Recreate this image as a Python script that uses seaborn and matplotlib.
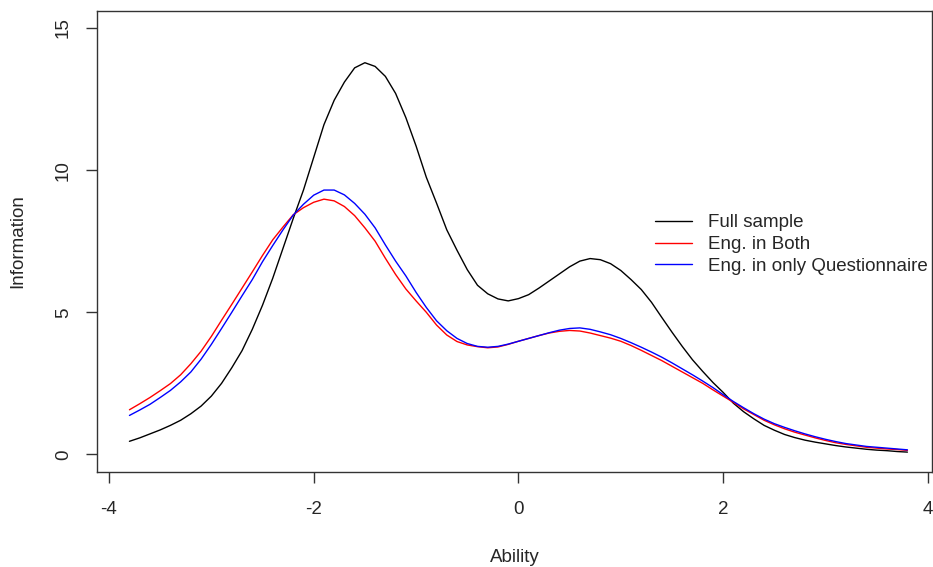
import pandas as pd
import matplotlib.pyplot as plt
import seaborn as sns
import numpy as np

# ability grid and information values
ability = [-3.8, -3.7, -3.6, -3.5, -3.4, -3.3, -3.2, -3.1, -3.0, -2.9,
           -2.8, -2.7, -2.6, -2.5, -2.4, -2.3, -2.2, -2.1, -2.0, -1.9,
           -1.8, -1.7, -1.6, -1.5, -1.4, -1.3, -1.2, -1.1, -1.0, -0.9,
           -0.8, -0.7, -0.6, -0.5, -0.4, -0.3, -0.2, -0.1, 0.0, 0.1,
           0.2, 0.3, 0.4, 0.5, 0.6, 0.7, 0.8, 0.9, 1.0, 1.1,
           1.2, 1.3, 1.4, 1.5, 1.6, 1.7, 1.8, 1.9, 2.0, 2.1,
           2.2, 2.3, 2.4, 2.5, 2.6, 2.7, 2.8, 2.9, 3.0, 3.1,
           3.2, 3.3, 3.4, 3.5, 3.6, 3.7, 3.8]

full_sample = [0.46, 0.58, 0.72, 0.86, 1.02, 1.2, 1.43, 1.7, 2.05, 2.5,
               3.05, 3.65, 4.4, 5.25, 6.2, 7.25, 8.3, 9.3, 10.45, 11.6,
               12.46, 13.1, 13.6, 13.78, 13.65, 13.3, 12.7, 11.85, 10.85, 9.75,
               8.84, 7.9, 7.18, 6.5, 5.95, 5.65, 5.47, 5.4, 5.48, 5.62,
               5.85, 6.1, 6.35, 6.6, 6.8, 6.89, 6.85, 6.71, 6.47, 6.15,
               5.8, 5.35, 4.82, 4.3, 3.8, 3.33, 2.92, 2.53, 2.18, 1.8,
               1.5, 1.25, 1.02, 0.85, 0.7, 0.59, 0.5, 0.43, 0.37, 0.31,
               0.26, 0.22, 0.18, 0.15, 0.13, 0.1, 0.08]

eng_both = [1.57, 1.78, 2.0, 2.24, 2.49, 2.8, 3.19, 3.63, 4.15, 4.72,
            5.28, 5.85, 6.42, 7.0, 7.55, 8.0, 8.43, 8.68, 8.87, 8.98,
            8.92, 8.72, 8.4, 7.97, 7.5, 6.9, 6.33, 5.82, 5.4, 5.0,
            4.55, 4.2, 3.97, 3.85, 3.79, 3.75, 3.78, 3.87, 3.98, 4.08,
            4.18, 4.27, 4.33, 4.36, 4.34, 4.27, 4.18, 4.09, 3.98, 3.83,
            3.66, 3.48, 3.3, 3.1, 2.9, 2.7, 2.5, 2.27, 2.05, 1.83,
            1.6, 1.4, 1.2, 1.04, 0.9, 0.78, 0.68, 0.58, 0.49, 0.41,
            0.35, 0.3, 0.25, 0.22, 0.19, 0.17, 0.14]

eng_quest = [1.37, 1.56, 1.76, 2.0, 2.25, 2.55, 2.9, 3.35, 3.87, 4.43,
             5.0, 5.58, 6.15, 6.78, 7.35, 7.9, 8.42, 8.8, 9.12, 9.3,
             9.3, 9.13, 8.83, 8.45, 7.97, 7.37, 6.8, 6.28, 5.7, 5.17,
             4.7, 4.35, 4.08, 3.9, 3.8, 3.77, 3.8, 3.88, 3.98, 4.08,
             4.18, 4.28, 4.37, 4.43, 4.45, 4.4, 4.31, 4.21, 4.08, 3.93,
             3.77, 3.6, 3.42, 3.22, 3.01, 2.8, 2.58, 2.35, 2.1, 1.86,
             1.64, 1.43, 1.24, 1.08, 0.95, 0.83, 0.72, 0.62, 0.53, 0.45,
             0.38, 0.33, 0.28, 0.25, 0.22, 0.19, 0.16]

labels = ["Full sample", "Eng. in Both", "Eng. in only Questionnaire"]
colors = ["black", "red", "blue"]

df = pd.concat([
    pd.DataFrame({"Ability": ability, "Information": vals, "group": lab})
    for vals, lab in zip([full_sample, eng_both, eng_quest], labels)
])

sns.set_style("white")
plt.rcParams['font.family'] = ['Liberation Sans', 'DejaVu Sans']
plt.rcParams['axes.unicode_minus'] = False
fs = 13.5

fig = plt.figure(figsize=(9.33, 5.67), dpi=100)
ax = fig.add_axes([97 / 933, 95 / 567, 835 / 933, 461 / 567])
sns.lineplot(data=df, x="Ability", y="Information", hue="group",
             palette=dict(zip(labels, colors)), linewidth=1.0, ax=ax,
             sort=False, estimator=None)

ax.set_xlim(-4.117, 4.04)
ax.set_ylim(-0.62, 15.6)
ax.set_xticks([-4, -2, 0, 2, 4])
ax.set_yticks([0, 5, 10, 15])
ax.tick_params(axis='both', direction='out', length=8, width=1,
               color='#333333', labelsize=fs, bottom=True, left=True)
ax.tick_params(axis='x', pad=13)
ax.tick_params(axis='y', pad=10)
for lab in ax.get_yticklabels():
    lab.set_rotation(90)
    lab.set_va('center')
for sp in ax.spines.values():
    sp.set_color('#333333')
    sp.set_linewidth(1.0)

ax.set_xlabel("Ability", fontsize=fs)
ax.set_ylabel("Information", fontsize=fs)
ax.xaxis.set_label_coords(0.5, -0.166)
ax.yaxis.set_label_coords(-0.085, 0.5)

leg = ax.legend(loc='upper left', bbox_to_anchor=(0.668, 0.559),
                frameon=False, fontsize=fs, borderpad=0, borderaxespad=0,
                handlelength=1.97, handletextpad=0.85, labelspacing=0.25)
for line in leg.get_lines():
    line.set_linewidth(1.0)

fig.savefig('out.png', dpi=100)
